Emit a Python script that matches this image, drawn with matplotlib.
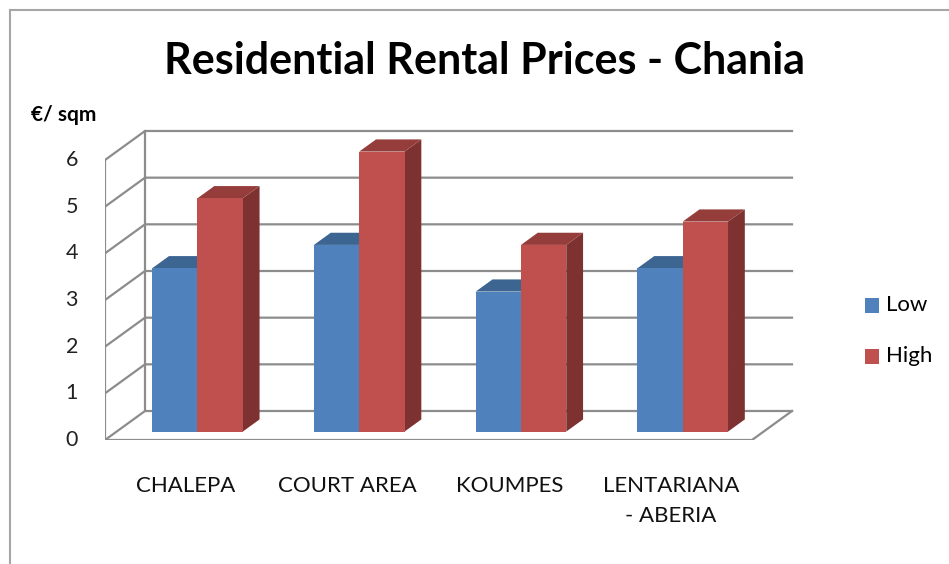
import matplotlib.pyplot as plt
from matplotlib.patches import Polygon

categories = ["CHALEPA", "COURT AREA", "KOUMPES", "LENTARIANA\n- ABERIA"]
low = [3.5, 4, 3, 3.5]
high = [5, 6, 4, 4.5]
yticks = [0, 1, 2, 3, 4, 5, 6]

plt.rcParams['font.family'] = ['Lato', 'DejaVu Sans']

fig = plt.figure(figsize=(9.49, 5.64), dpi=100)

# front plane: x=-0.5 -> 105px, x=3.5 -> 752px ; y=0 -> 440px, y=6 -> 160px
px_x = 647 / 4.0
px_y = 280 / 6.0
xmin, xmax = -0.5, 3.9
ymin, ymax = 0, 7.0
ax = fig.add_axes([105 / 949, (564 - 440) / 564,
                   (xmax - xmin) * px_x / 949, (ymax - ymin) * px_y / 564])
ax.set_xlim(xmin, xmax)
ax.set_ylim(ymin, ymax)
ax.axis("off")

# oblique depth offsets (full depth of the box)
ddx = 40 / px_x
ddy = 29 / px_y

grid_c = "#8c8c8c"
lw = 1.6

def proj(x, y, d):
    return (x + d * ddx, y + d * ddy)

# walls + gridlines
for v in yticks:
    x0, y0 = proj(-0.5, v, 0)
    x1, y1 = proj(-0.5, v, 1)
    x2, y2 = proj(3.5, v, 1)
    ax.plot([x0, x1, x2], [y0, y1, y2], color=grid_c, lw=lw, zorder=1,
            solid_joinstyle="miter")
ax.plot([-0.5, -0.5], [0, 6], color=grid_c, lw=lw, zorder=1)
bx, by = proj(-0.5, 0, 1)
ax.plot([bx, bx], [by, by + 6], color=grid_c, lw=lw, zorder=1)
fx, fy = proj(3.5, 0, 0)
ax.plot([-0.5, fx, bx + 4], [0, fy, by], color=grid_c, lw=lw, zorder=1)

# y tick labels on the front plane
for v in yticks:
    ax.text(-0.5 - 27 / px_x, v, str(v), ha="right", va="center",
            fontsize=15.5, color="#222222")

bw = 0.28
d0, d1 = 0.29, 0.71

def bar3d(xl, h, front, top, side):
    xr = xl + bw
    f = [proj(xl, 0, d0), proj(xr, 0, d0), proj(xr, h, d0), proj(xl, h, d0)]
    t = [proj(xl, h, d0), proj(xr, h, d0), proj(xr, h, d1), proj(xl, h, d1)]
    s = [proj(xr, 0, d0), proj(xr, 0, d1), proj(xr, h, d1), proj(xr, h, d0)]
    ax.add_patch(Polygon(s, closed=True, fc=side, ec="none", zorder=3))
    ax.add_patch(Polygon(t, closed=True, fc=top, ec="none", zorder=3))
    ax.add_patch(Polygon(f, closed=True, fc=front, ec="none", zorder=4))

for i in range(len(categories)):
    bar3d(i - bw, low[i], "#4f81bd", "#3d6592", "#2f4f74")
    bar3d(i, high[i], "#c0504d", "#953d3b", "#7d3130")

# category labels under the front edge
for i, lab in enumerate(categories):
    ax.text(i, -0.78, lab, ha="center", va="top",
            fontsize=16, color="#111111", linespacing=1.6)

fig.text(484 / 949, 1 - 61 / 564, "Residential Rental Prices - Chania",
         ha="center", va="center", fontsize=31, fontweight="bold")
fig.text(64 / 949, 1 - 115 / 564, "€/ sqm", ha="center", va="center",
         fontsize=15, fontweight="bold")

# legend
for j, (name, col) in enumerate([("Low", "#4f81bd"), ("High", "#c0504d")]):
    yc = 1 - (305 + 51 * j) / 564
    fig.patches.append(plt.Rectangle((865 / 949, yc - 7.5 / 564), 14 / 949, 15 / 564,
                                     transform=fig.transFigure, fc=col, ec="none"))
    fig.text(886 / 949, yc, name, ha="left", va="center", fontsize=16)

# chart frame (left and top edges visible)
fig.add_artist(plt.Line2D([10 / 949, 10 / 949], [0, 1 - 10 / 564],
                          transform=fig.transFigure, color="#a6a6a6", lw=1.5))
fig.add_artist(plt.Line2D([10 / 949, 1], [1 - 10 / 564, 1 - 10 / 564],
                          transform=fig.transFigure, color="#a6a6a6", lw=1.5))

fig.savefig("out.png", dpi=100)
